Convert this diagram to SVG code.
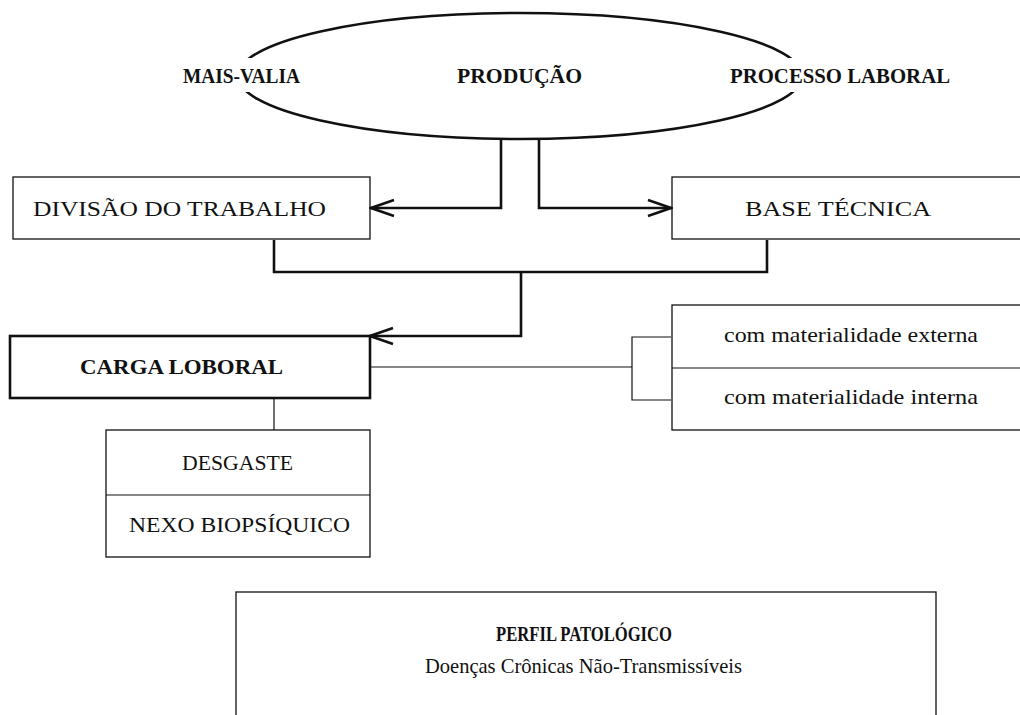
<svg xmlns="http://www.w3.org/2000/svg" width="1020" height="715" viewBox="0 0 1020 715">
<defs>
<style>
text{font-family:"Liberation Serif","Times New Roman",serif;font-size:21px;fill:#111;}
.b{font-weight:bold;}
.box{fill:#fff;stroke:#111;stroke-width:1.3;}
.thick{fill:#fff;stroke:#111;stroke-width:2.6;}
.con{fill:none;stroke:#111;stroke-width:2.6;}
.thin{fill:none;stroke:#111;stroke-width:1.2;}
</style>
<marker id="arr" markerUnits="userSpaceOnUse" markerWidth="30" markerHeight="24" viewBox="0 0 30 24" refX="28" refY="12" orient="auto">
<path d="M5,4 L28,12 L5,20" fill="none" stroke="#111" stroke-width="2.6"/>
</marker>
</defs>
<rect width="1020" height="715" fill="#fff"/>

<g id="producao">
<ellipse cx="520" cy="76" rx="282" ry="63" fill="none" stroke="#111" stroke-width="2.6"/>
<rect x="180" y="58" width="124" height="34" fill="#fff"/>
<rect x="726" y="58" width="230" height="34" fill="#fff"/>
<text class="b" x="183" y="83" textLength="117" lengthAdjust="spacingAndGlyphs">MAIS-VALIA</text>
<text class="b" x="457" y="83" textLength="125" lengthAdjust="spacingAndGlyphs">PRODUÇÃO</text>
<text class="b" x="730" y="83" textLength="220" lengthAdjust="spacingAndGlyphs">PROCESSO LABORAL</text>
</g>

<g id="divisao">
<rect class="box" x="13" y="177" width="357" height="62"/>
<text x="33" y="216" textLength="293" lengthAdjust="spacingAndGlyphs">DIVISÃO DO TRABALHO</text>
</g>

<g id="base">
<rect class="box" x="672" y="177" width="360" height="62"/>
<text x="745" y="216" textLength="186" lengthAdjust="spacingAndGlyphs">BASE TÉCNICA</text>
</g>

<g id="carga">
<rect class="thick" x="10" y="336" width="360" height="62"/>
<text class="b" x="80" y="374" textLength="203" lengthAdjust="spacingAndGlyphs">CARGA LOBORAL</text>
</g>

<g id="materialidade">
<rect class="box" x="672" y="305" width="360" height="125"/>
<line class="thin" x1="672" y1="368" x2="1032" y2="368" stroke-width="1.3"/>
<text x="724" y="342" textLength="254" lengthAdjust="spacingAndGlyphs">com materialidade externa</text>
<text x="724" y="404" textLength="254" lengthAdjust="spacingAndGlyphs">com materialidade interna</text>
</g>

<g id="desgaste">
<rect class="box" x="106" y="430" width="264" height="127"/>
<line class="thin" x1="106" y1="495" x2="370" y2="495" stroke-width="1.3"/>
<text x="182" y="470" textLength="111" lengthAdjust="spacingAndGlyphs">DESGASTE</text>
<text x="129" y="532" textLength="221" lengthAdjust="spacingAndGlyphs">NEXO BIOPSÍQUICO</text>
</g>

<g id="perfil">
<rect class="box" x="236" y="592" width="700" height="140"/>
<text class="b" x="496" y="641" textLength="176" lengthAdjust="spacingAndGlyphs">PERFIL PATOLÓGICO</text>
<text x="425" y="673" textLength="317" lengthAdjust="spacingAndGlyphs">Doenças Crônicas Não-Transmissíveis</text>
</g>

<g id="connectors">
<path class="con" d="M501,139 V208 H371" marker-end="url(#arr)"/>
<path class="con" d="M539,139 V208 H671" marker-end="url(#arr)"/>
<path class="con" d="M274,240 V272 H767 V240"/>
<path class="con" d="M521,272 V336 H370" marker-end="url(#arr)"/>
<path class="thin" d="M371,367 H632"/>
<path class="thin" d="M671,337 H632 V400 H671"/>
<path class="thin" d="M274,399 V430"/>
</g>
</svg>
